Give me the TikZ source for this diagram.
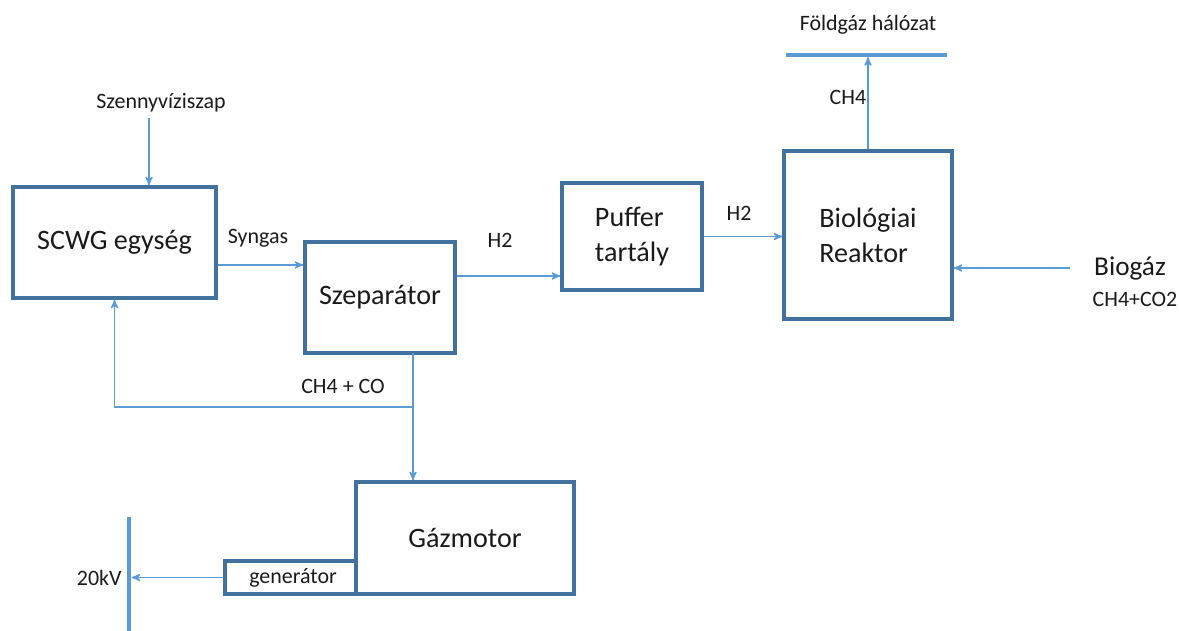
\documentclass[tikz,border=0pt]{standalone}
\usepackage{fontspec}
\setmainfont{Carlito}
\usetikzlibrary{arrows,positioning}
\definecolor{boxblue}{HTML}{41719C}
\definecolor{flowblue}{HTML}{5B9BD5}
\definecolor{txt}{HTML}{1A1A1A}

\begin{document}
\begin{tikzpicture}[>=stealth',semithick,text=txt]
		\tikzstyle{box}=[draw=boxblue,line width=1.9pt,align=left,font=\fontsize{16}{20}\selectfont]
		\tikzstyle{flow}=[->,draw=flowblue,line width=0.8pt]
		\tikzstyle{bus}=[draw=flowblue,line width=1.8pt]
		\tikzstyle{lbl}=[font=\fontsize{12.5}{15}\selectfont]

		\useasboundingbox (0,0) rectangle (23.58,-12.62);

		\node[box,minimum width=4.06cm,minimum height=2.22cm] (scwg) at (2.29,-4.85) {SCWG egység};
		\node[box,minimum width=3cm,minimum height=2.22cm] (szep) at (7.6,-5.95) {Szeparátor};
		\node[box,minimum width=2.8cm,minimum height=2.14cm] (puffer) at (12.64,-4.73) {Puffer\\tartály};
		\node[box,minimum width=3.36cm,minimum height=3.36cm] (reaktor) at (17.36,-4.7) {Biológiai\\Reaktor};
		\node[box,minimum width=4.36cm,minimum height=2.24cm] (gaz) at (9.3,-10.76) {Gázmotor};
		\node[box,minimum width=2.62cm,minimum height=0.66cm,font=\fontsize{12.5}{15}\selectfont] (gen) at (5.81,-11.55) {\hspace{0.1cm}generátor};

		\node[lbl] (sludge) at (3.22,-2.06) {Szennyvíziszap};
		\node[lbl] (syngas) at (5.16,-4.76) {Syngas};
		\node[lbl] (h2a) at (10.0,-4.8) {H2};
		\node[lbl] (h2b) at (14.78,-4.26) {H2};
		\node[lbl] (ch4) at (16.96,-1.94) {CH4};
		\node[lbl] (grid) at (17.36,-0.5) {Földgáz hálózat};
		\node[font=\fontsize{15.5}{18}\selectfont] (biogas) at (22.6,-5.36) {Biogáz};
		\node[lbl] (biomix) at (22.7,-5.98) {CH4+CO2};
		\node[lbl] (recyc) at (6.86,-7.72) {CH4 + CO};
		\node[lbl,anchor=east] (kv) at (2.56,-11.56) {20kV};

		\coordinate (sludgeIn) at (2.98,-2.36);
		\coordinate (synY) at (0,-5.3);
		\coordinate (h2Y) at (0,-5.52);
		\coordinate (gridL) at (15.72,-1.1);
		\coordinate (gridR) at (18.94,-1.1);
		\coordinate (bioIn) at (21.4,-5.36);
		\coordinate (sepOut) at (8.26,-7.06);
		\coordinate (tee) at (8.26,-8.14);
		\coordinate (busTop) at (2.58,-10.34);
		\coordinate (busBot) at (2.58,-12.62);

		\draw[bus] (gridL) -- (gridR);
		\draw[bus] (busTop) -- (busBot);

		\draw[flow] (sludgeIn) -- (sludgeIn |- scwg.north);
		\draw[flow] (scwg.east |- synY) -- (szep.west |- synY);
		\draw[flow] (szep.east |- h2Y) -- (puffer.west |- h2Y);
		\draw[flow] (puffer.east) -- (puffer.east -| reaktor.west);
		\draw[flow,shorten >=1.2pt] (reaktor.north) -- (reaktor.north |- gridL);
		\draw[flow] (bioIn) -- (bioIn -| reaktor.east);
		\draw[flow] (sepOut) -- (sepOut |- gaz.north);
		\draw[flow] (tee) -| (scwg.south);
		\draw[flow,shorten >=1.5pt] (gen.west) -- (gen.west -| busTop);
	\end{tikzpicture}
\end{document}
